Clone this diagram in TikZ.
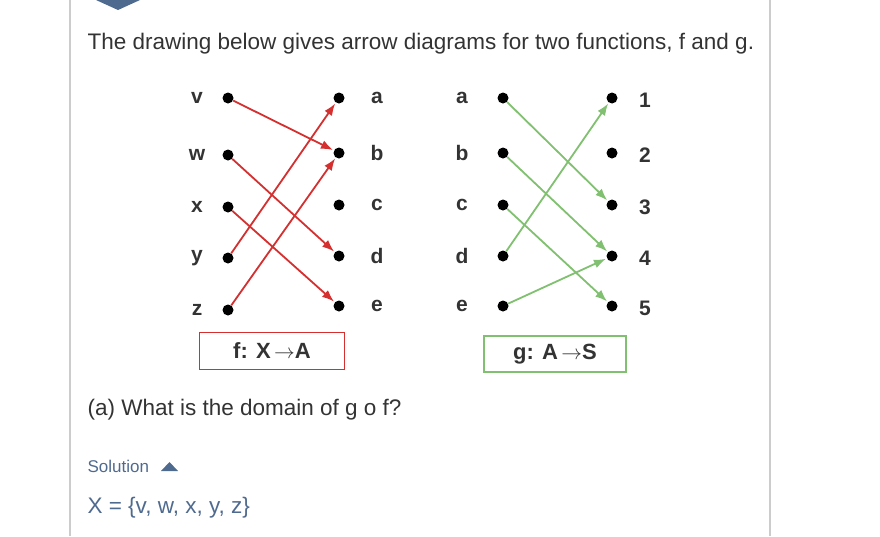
\documentclass[tikz,border=0pt]{standalone}
\usepackage{fontspec}
\setmainfont{Liberation Sans}
\usetikzlibrary{positioning,arrows.meta}
\definecolor{fred}{HTML}{D43030}
\definecolor{ggreen}{HTML}{80C070}
\definecolor{slate}{HTML}{4F6A8F}
\definecolor{txt}{HTML}{333333}
\tikzset{
  dot/.style={circle, fill=black, inner sep=0, minimum size=11pt},
  lbl/.style={font=\fontsize{21}{24}\selectfont\bfseries, text=txt},
  farrow/.style={-{Latex[length=12pt,width=9pt]}, fred, line width=1.8pt, shorten >=1pt},
  garrow/.style={-{Latex[length=12pt,width=9pt]}, ggreen, line width=1.8pt, shorten >=1pt},
}
\begin{document}
\begin{tikzpicture}[x=1pt, y=-1pt]
\useasboundingbox (0,0) rectangle (880,536);
\draw[gray!40, line width=1.2pt] (70,0) -- (70,536);
\draw[gray!40, line width=1.2pt] (770,0) -- (770,536);
\fill[slate] (96,0) -- (140,0) -- (118,10) -- cycle;
\node[anchor=west, text=txt, font=\fontsize{22.5}{26}\selectfont] (title) at (84,44) {The drawing below gives arrow diagrams for two functions, f and g.};
% f: X -> A
\foreach \n/\y in {v/98,w/155,x/207,y/258,z/310} {
  \node[dot] (f\n) at (228,\y) {};
  \node[lbl] at (197,\y) {\n};
};
\foreach \n/\y in {a/98,b/153,c/205,d/256,e/306} {
  \node[dot] (A\n) at (339,\y) {};
  \node[lbl] at (377,\y) {\n};
};
\foreach \s/\t in {v/b,w/d,x/e,y/a,z/b}
  \draw[farrow] (f\s) -- (A\t);
\node[draw=fred, line width=1.2pt, minimum width=145pt, minimum height=37pt, font=\fontsize{22}{26}\selectfont\bfseries, text=txt] (fbox) at (272,351) {f: X$\,\rightarrow$A};
% g: A -> S
\foreach \n/\y in {a/98,b/153,c/205,d/256,e/306} {
  \node[dot] (g\n) at (503,\y) {};
  \node[lbl] at (462,\y) {\n};
};
\foreach \n/\y in {1/98,2/153,3/205,4/256,5/306} {
  \node[dot] (S\n) at (612,\y) {};
  \node[lbl] at (645,\y+2) {\n};
};
\foreach \s/\t in {a/3,b/4,c/5,d/1,e/4}
  \draw[garrow] (g\s) -- (S\t);
\node[draw=ggreen, line width=1.2pt, minimum width=142pt, minimum height=36pt, font=\fontsize{22}{26}\selectfont\bfseries, text=txt] (gbox) at (555,354) {g: A$\,\rightarrow$S};
\node[anchor=west, text=txt, font=\fontsize{22.5}{26}\selectfont] (question) at (84,410) {(a) What is the domain of g o f?};
\node[anchor=west, text=slate, font=\fontsize{17}{20}\selectfont] (sol) at (84,466) {Solution};
\fill[slate] (161,471) -- (178,471) -- (169.5,462) -- cycle;
\node[anchor=west, text=slate, font=\fontsize{22.5}{26}\selectfont] (answer) at (84,508) {X = \{v, w, x, y, z\}};
\end{tikzpicture}
\end{document}
